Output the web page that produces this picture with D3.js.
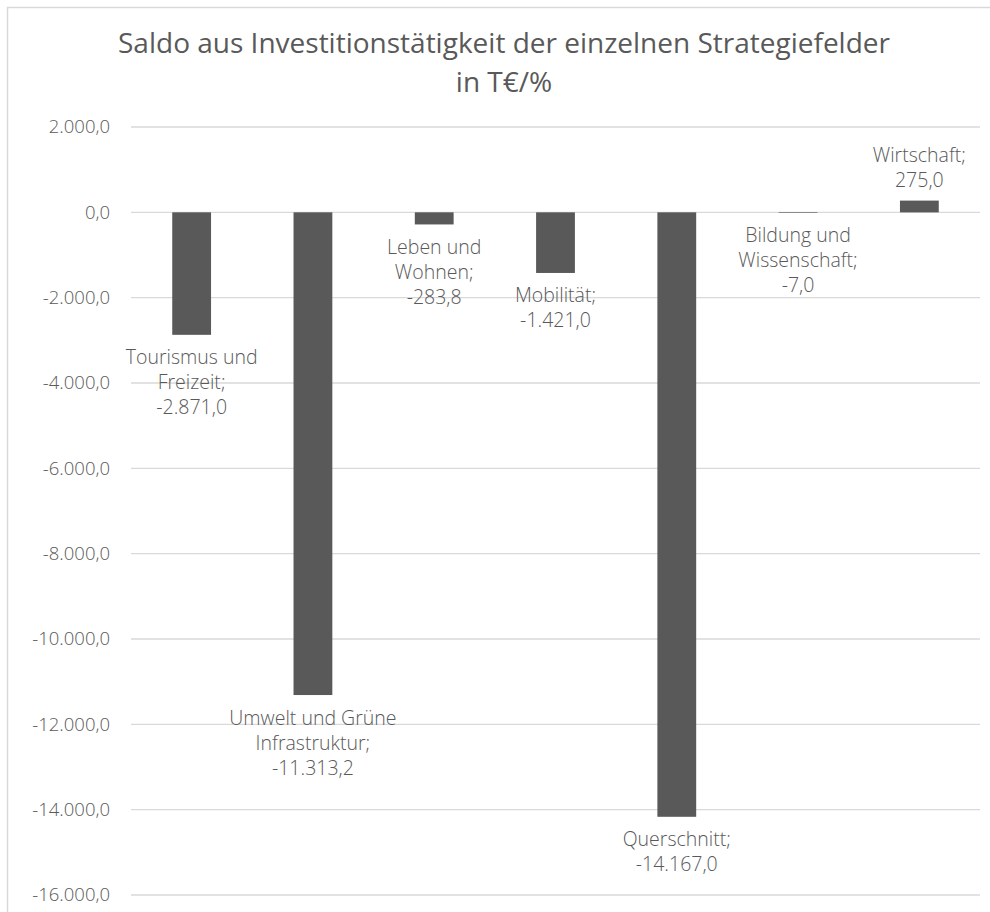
<!DOCTYPE html>
<html>
<head>
<meta charset="utf-8">
<script src="https://cdn.jsdelivr.net/npm/d3@7"></script>
<style>
  body { margin: 0; background: #fff; }
  text { font-family: "Open Sans", "Noto Sans", sans-serif; font-weight: 300; fill: #595959; }
  .title { font-weight: 400; }
</style>
</head>
<body>
<script>
const categories = [
    "Tourismus und\nFreizeit",
    "Umwelt und Grüne\nInfrastruktur",
    "Leben und\nWohnen",
    "Mobilität",
    "Querschnitt",
    "Bildung und\nWissenschaft",
    "Wirtschaft"
];
const values = [-2871.0, -11313.2, -283.8, -1421.0, -14167.0, -7.0, 275.0];
const yTicks = [2000, 0, -2000, -4000, -6000, -8000, -10000, -12000, -14000, -16000];
const titleLines = ["Saldo aus Investitionstätigkeit der einzelnen Strategiefelder", "in T€/%"];

const width = 990, height = 912;
const de = d3.formatLocale({decimal: ",", thousands: ".", grouping: [3], currency: ["", "€"], minus: "-"});
const fmt = de.format(",.1f");

const svg = d3.select("body").append("svg")
    .attr("width", width)
    .attr("height", height);

// chart frame (cut off at right and bottom like the original)
svg.append("rect")
    .attr("x", 7.5).attr("y", 7.5)
    .attr("width", 1000).attr("height", 1000)
    .attr("fill", "#fff")
    .attr("stroke", "#d9d9d9")
    .attr("stroke-width", 1.5);

svg.selectAll(".title")
    .data(titleLines)
    .enter().append("text")
    .attr("class", "title")
    .attr("x", 504)
    .attr("y", (d, i) => 53 + i * 39)
    .attr("text-anchor", "middle")
    .attr("font-size", 28)
    .text(d => d);

const x = d3.scaleBand()
    .domain(categories)
    .range([131, 980])
    .paddingInner(0.68)
    .paddingOuter(0.34);

const y = d3.scaleLinear()
    .domain([-16000, 2000])
    .range([895, 127]);

// gridlines
svg.append("g")
    .selectAll("line")
    .data(yTicks)
    .enter().append("line")
    .attr("x1", 131).attr("x2", 980)
    .attr("y1", d => y(d)).attr("y2", d => y(d))
    .attr("stroke", "#d9d9d9")
    .attr("stroke-width", 1.3);

// y axis labels
const yAxis = d3.axisLeft(y)
    .tickValues(yTicks)
    .tickFormat(fmt)
    .tickSize(0)
    .tickPadding(0);

const gy = svg.append("g")
    .attr("transform", "translate(110,0)")
    .call(yAxis);
gy.select(".domain").remove();
gy.selectAll("text")
    .attr("font-size", 18.5)
    .attr("font-family", null)
    .attr("fill", null);

// bars
svg.selectAll(".bar")
    .data(values)
    .enter().append("rect")
    .attr("class", "bar")
    .attr("x", (d, i) => x(categories[i]))
    .attr("width", x.bandwidth())
    .attr("y", d => y(Math.max(0, d)))
    .attr("height", d => Math.max(0.6, Math.abs(y(d) - y(0))))
    .attr("fill", "#595959");

// data labels: "Kategorie; Wert"
const lineH = 25;
values.forEach((v, i) => {
    const lines = (categories[i] + ";").split("\n");
    lines.push(fmt(v));
    const cx = x(categories[i]) + x.bandwidth() / 2;
    const end = y(v);
    const n = lines.length;
    svg.append("g")
        .selectAll("text")
        .data(lines)
        .enter().append("text")
        .attr("x", cx)
        .attr("y", (d, k) => v < 0 ? end + 22 + k * lineH : end - 21 - (n - 1 - k) * lineH)
        .attr("dominant-baseline", "central")
        .attr("text-anchor", "middle")
        .attr("font-size", 19.5)
        .text(d => d);
});
</script>
</body>
</html>
